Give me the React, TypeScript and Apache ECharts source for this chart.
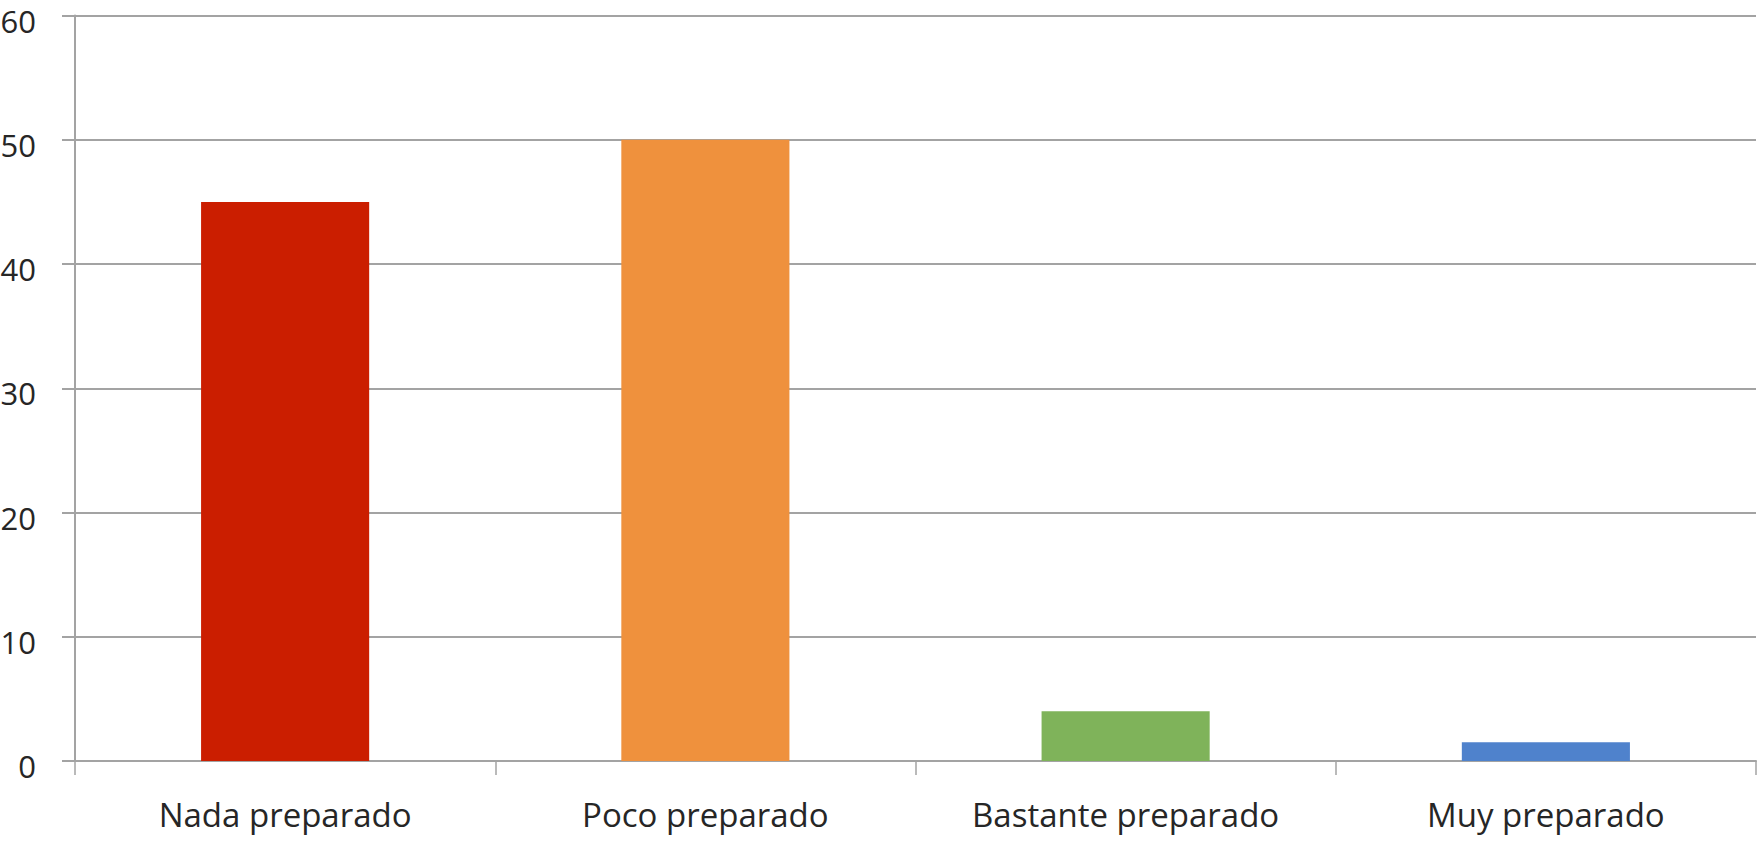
import React, { useEffect, useRef } from "react";
import * as echarts from "echarts";

const categories = ["Nada preparado", "Poco preparado", "Bastante preparado", "Muy preparado"];
const values = [45, 50, 4, 1.5];
const barColors = ["#CB1E00", "#EF913D", "#7FB35A", "#4F82CC"];
const yTicks = { min: 0, max: 60, interval: 10 };

export default function App() {
  const ref = useRef<HTMLDivElement>(null);
  useEffect(() => {
    if (!ref.current) return;
    const chart = echarts.init(ref.current, undefined, { renderer: "svg" });
    const axisColor = "#a3a3a3";
    chart.setOption({
      animation: false,
      backgroundColor: "#ffffff",
      grid: { left: 75, right: 2, top: 15.5, bottom: 82, containLabel: false, outerBoundsMode: "none" },
      xAxis: {
        type: "category",
        data: categories,
        axisLine: { show: true, lineStyle: { color: axisColor, width: 2 } },
        axisTick: { show: true, alignWithLabel: false, length: 14, lineStyle: { color: axisColor, width: 1.5 } },
        axisLabel: {
          color: "#262626",
          fontFamily: "Open Sans",
          fontSize: 33,
          margin: 37,
          interval: 0,
        },
        splitLine: { show: false },
      },
      yAxis: {
        type: "value",
        min: yTicks.min,
        max: yTicks.max,
        interval: yTicks.interval,
        axisLine: { show: true, lineStyle: { color: axisColor, width: 2 } },
        axisTick: { show: true, length: 13, lineStyle: { color: axisColor, width: 2 } },
        axisLabel: {
          color: "#262626",
          fontFamily: "Open Sans",
          fontSize: 31,
          margin: 39,
          verticalAlign: "top",
          lineHeight: 10,
        },
        splitLine: { show: true, lineStyle: { color: axisColor, width: 2 } },
      },
      series: [
        {
          type: "bar",
          barWidth: "40%",
          data: values.map((v, i) => ({ value: v, itemStyle: { color: barColors[i] } })),
        },
      ],
    });
    return () => chart.dispose();
  }, []);
  return (
    <div
      ref={ref}
      style={{ position: "fixed", left: 0, top: 0, width: 1758, height: 843, background: "#fff" }}
    />
  );
}
